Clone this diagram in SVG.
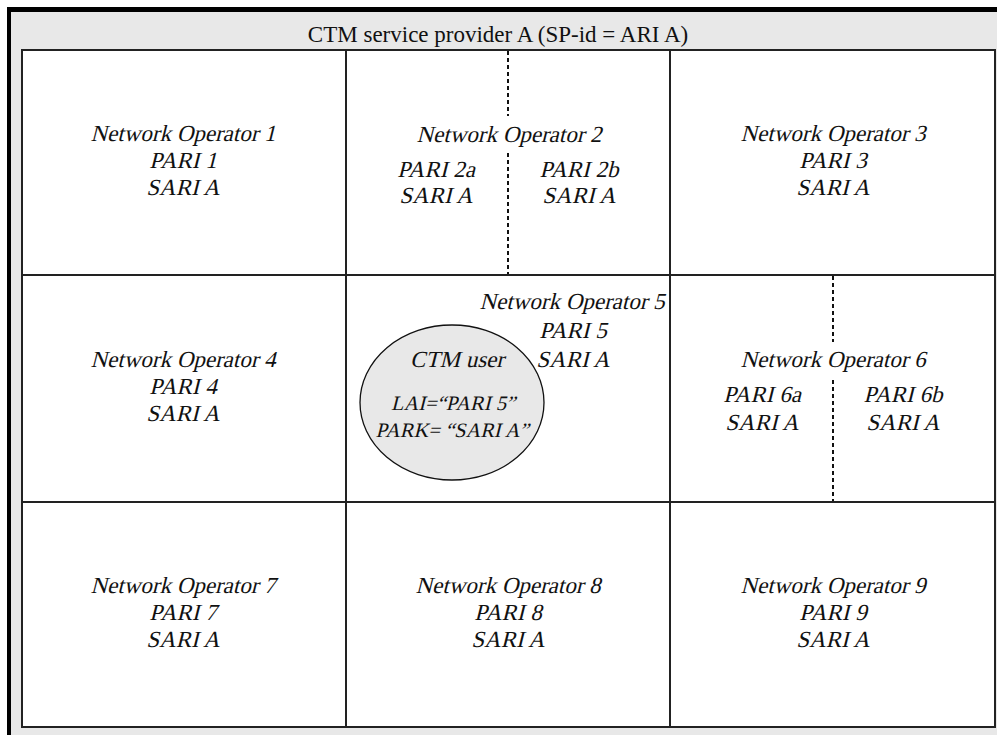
<svg xmlns="http://www.w3.org/2000/svg" width="997" height="735" viewBox="0 0 997 735">
<style>
.t{font-family:"Liberation Serif",serif;font-size:23px;fill:#111;text-anchor:middle}
.s{font-size:20.5px}
.title{font-family:"Liberation Serif",serif;font-size:23px;fill:#111;text-anchor:middle}
.cell{fill:#fff;stroke:#222;stroke-width:2}
.dash{stroke:#111;stroke-width:2;stroke-dasharray:4 3;fill:none}
</style>
<rect x="0" y="0" width="997" height="735" fill="#fff"/>
<g id="frame">
<rect x="7" y="7" width="990" height="728" fill="#e8e8e8"/>
<rect x="7" y="7" width="990" height="5" fill="#000"/>
<rect x="7" y="7" width="4" height="728" fill="#000"/>
<text class="title" x="498" y="42">CTM service provider A (SP-id = ARI A)</text>
</g>
<g id="no1">
<rect class="cell" x="22" y="50" width="324" height="225"/>
<text class="t" transform="translate(183 141) skewX(-14)">Network Operator 1</text>
<text class="t" transform="translate(183 168) skewX(-14)">PARI 1</text>
<text class="t" transform="translate(183 195) skewX(-14)">SARI A</text>
</g>
<g id="no2">
<rect class="cell" x="346" y="50" width="324" height="225"/>
<line class="dash" x1="508" y1="51" x2="508" y2="116"/>
<line class="dash" x1="508" y1="153" x2="508" y2="274"/>
<text class="t" transform="translate(509 142) skewX(-14)">Network Operator 2</text>
<text class="t" transform="translate(436 177) skewX(-14)">PARI 2a</text>
<text class="t" transform="translate(436 203) skewX(-14)">SARI A</text>
<text class="t" transform="translate(579 177) skewX(-14)">PARI 2b</text>
<text class="t" transform="translate(579 203) skewX(-14)">SARI A</text>
</g>
<g id="no3">
<rect class="cell" x="670" y="50" width="325" height="225"/>
<text class="t" transform="translate(833 141) skewX(-14)">Network Operator 3</text>
<text class="t" transform="translate(833 168) skewX(-14)">PARI 3</text>
<text class="t" transform="translate(833 195) skewX(-14)">SARI A</text>
</g>
<g id="no4">
<rect class="cell" x="22" y="275" width="324" height="227"/>
<text class="t" transform="translate(183 367) skewX(-14)">Network Operator 4</text>
<text class="t" transform="translate(183 394) skewX(-14)">PARI 4</text>
<text class="t" transform="translate(183 421) skewX(-14)">SARI A</text>
</g>
<g id="no5">
<rect class="cell" x="346" y="275" width="324" height="227"/>
<text class="t" transform="translate(572 309) skewX(-14)">Network Operator 5</text>
<text class="t" transform="translate(573 338) skewX(-14)">PARI 5</text>
<text class="t" transform="translate(573 367) skewX(-14)">SARI A</text>
</g>
<g id="ctm-user">
<ellipse cx="452" cy="402.5" rx="92" ry="77.5" fill="#e8e8e8" stroke="#111" stroke-width="1.3"/>
<text class="t" transform="translate(457 367) skewX(-14)">CTM user</text>
<text class="t s" transform="translate(453 410) skewX(-14)">LAI=“PARI 5”</text>
<text class="t s" transform="translate(452 437) skewX(-14)">PARK= “SARI A”</text>
</g>
<g id="no6">
<rect class="cell" x="670" y="275" width="325" height="227"/>
<line class="dash" x1="833" y1="276" x2="833" y2="342"/>
<line class="dash" x1="833" y1="380" x2="833" y2="501"/>
<text class="t" transform="translate(833 367) skewX(-14)">Network Operator 6</text>
<text class="t" transform="translate(762 402) skewX(-14)">PARI 6a</text>
<text class="t" transform="translate(762 430) skewX(-14)">SARI A</text>
<text class="t" transform="translate(903 402) skewX(-14)">PARI 6b</text>
<text class="t" transform="translate(903 430) skewX(-14)">SARI A</text>
</g>
<g id="no7">
<rect class="cell" x="22" y="502" width="324" height="225"/>
<text class="t" transform="translate(183 593) skewX(-14)">Network Operator 7</text>
<text class="t" transform="translate(183 620) skewX(-14)">PARI 7</text>
<text class="t" transform="translate(183 647) skewX(-14)">SARI A</text>
</g>
<g id="no8">
<rect class="cell" x="346" y="502" width="324" height="225"/>
<text class="t" transform="translate(508 593) skewX(-14)">Network Operator 8</text>
<text class="t" transform="translate(508 620) skewX(-14)">PARI 8</text>
<text class="t" transform="translate(508 647) skewX(-14)">SARI A</text>
</g>
<g id="no9">
<rect class="cell" x="670" y="502" width="325" height="225"/>
<text class="t" transform="translate(833 593) skewX(-14)">Network Operator 9</text>
<text class="t" transform="translate(833 620) skewX(-14)">PARI 9</text>
<text class="t" transform="translate(833 647) skewX(-14)">SARI A</text>
</g>
<g id="connectors"/>
</svg>
